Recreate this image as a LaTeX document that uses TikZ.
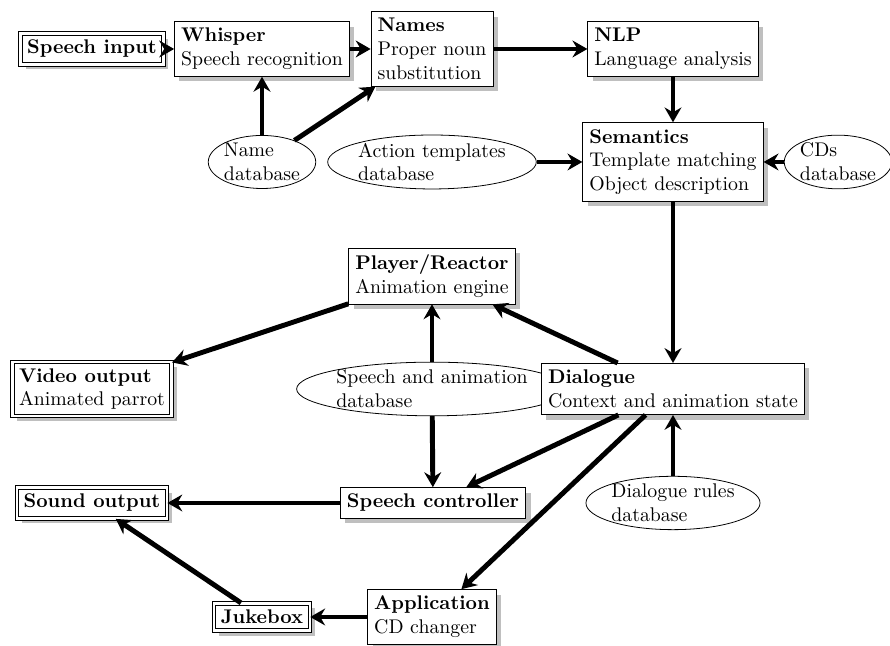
\documentclass[tikz,border=0pt]{standalone}
\usetikzlibrary{arrows.meta}
\usetikzlibrary{shapes.geometric}
\usetikzlibrary{shadows}

\tikzset{
  box/.style={draw, fill=white, align=left, drop shadow={shadow xshift=2.5pt, shadow yshift=-2.5pt, fill=black!25, opacity=1}},
  iobox/.style={box, double, double distance=1.2pt, line width=0.5pt},
  db/.style={draw, ellipse, inner sep=0pt, align=left, fill=white},
  flow/.style={-{Stealth[length=7.5pt, width=8.5pt, inset=2.5pt]}, line width=2.5pt},
}

\begin{document}
\begin{tikzpicture}[x=.505pt,y=.505pt]
\useasboundingbox (0,0) rectangle (890,646);

% speech in
\node[iobox] (speechin) at (92,597) {\textbf{Speech input}};
\node[box] (whisper) at (262,597) {\textbf{Whisper}\\Speech recognition};
\node[box] (names) at (432,597) {\textbf{Names}\\Proper noun\\substitution};
\node[box] (nlp) at (673,597) {\textbf{NLP}\\Language analysis};

% databases
\node[db] (namedb) at (262,484) {Name\\database};
\node[db] (actiondb) at (432,484) {Action templates\\database};
\node[db] (cddb) at (838,484) {CDs\\database};
\node[box] (semantics) at (673,484) {\textbf{Semantics}\\Template matching\\Object description};

% animation
\node[box] (player) at (432,370) {\textbf{Player/Reactor}\\Animation engine};
\node[iobox] (video) at (92,257) {\textbf{Video output}\\Animated parrot};
\node[db] (speechdb) at (432,257) {Speech and animation\\database};
\node[box] (dialogue) at (673,257) {\textbf{Dialogue}\\Context and animation state};

% sound
\node[iobox] (sound) at (92,143) {\textbf{Sound output}};
\node[box] (speechctl) at (433,143) {\textbf{Speech controller}};
\node[db] (rulesdb) at (673,143) {Dialogue rules\\database};
\node[iobox] (jukebox) at (262,29) {\textbf{Jukebox}};
\node[box] (app) at (432,29) {\textbf{Application}\\CD changer};

\draw[flow] (speechin) -- (whisper);
\draw[flow] (whisper) -- (names);
\draw[flow] (names) -- (nlp);
\draw[flow] (namedb) -- (whisper);
\draw[flow] (namedb) -- (names);
\draw[flow] (nlp) -- (semantics);
\draw[flow] (actiondb) -- (semantics);
\draw[flow] (cddb) -- (semantics);
\draw[flow] (semantics) -- (dialogue);

\draw[flow] (dialogue) -- (player);
\draw[flow] (player) -- (video);
\draw[flow] (speechdb) -- (player);
\draw[flow] (speechdb) -- (speechctl);
\draw[flow] (dialogue) -- (speechctl);
\draw[flow] (dialogue) -- (app);
\draw[flow] (rulesdb) -- (dialogue);

\draw[flow] (speechctl) -- (sound);
\draw[flow] (app) -- (jukebox);
\draw[flow] (jukebox) -- (sound);
\end{tikzpicture}
\end{document}
